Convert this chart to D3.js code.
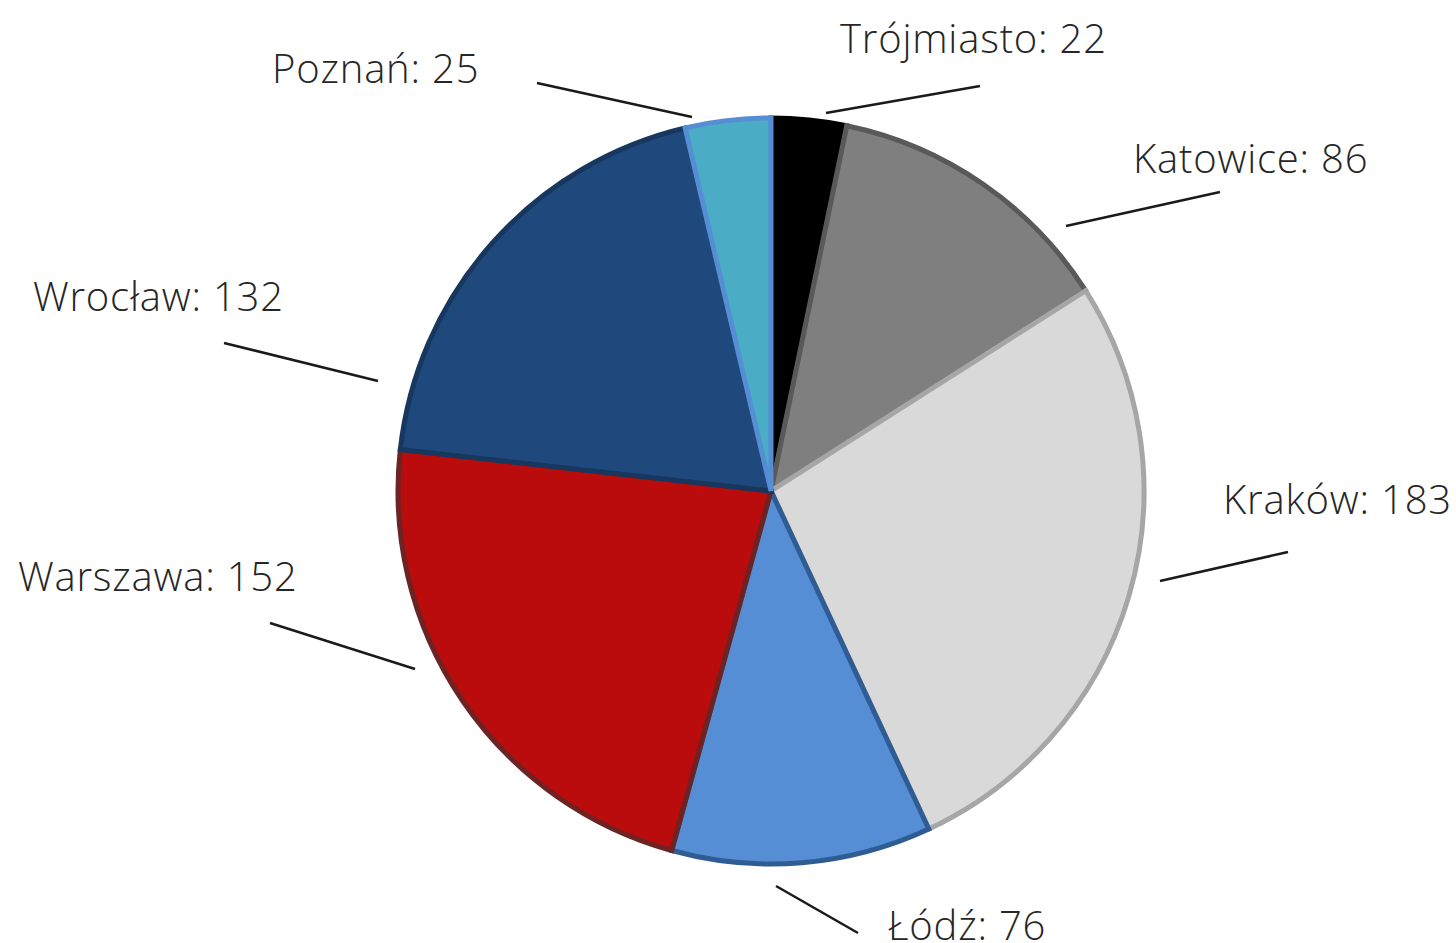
<!DOCTYPE html>
<html>
<head>
<meta charset="utf-8">
<script src="https://cdn.jsdelivr.net/npm/d3@7"></script>
<style>
  body { margin: 0; background: #fff; }
  text { font-family: "Open Sans", "DejaVu Sans", sans-serif; font-weight: 300; fill: #262626; }
</style>
</head>
<body>
<div id="chart"></div>
<script>
// data
var cities = ["Trójmiasto", "Katowice", "Kraków", "Łódź", "Warszawa", "Wrocław", "Poznań"];
var counts = [22, 86, 183, 76, 152, 132, 25];
var fills = ["#000000", "#7f7f7f", "#d9d9d9", "#558ed5", "#ba0c0c", "#1f497d", "#4bacc6"];
var strokes = ["#000000", "#595959", "#a6a6a6", "#2f5d93", "#6b2323", "#17375e", "#558ed5"];

// label layout: text start / baseline, leader line from -> to
var labelLayout = [
    { tx: 840, ty: 53, x1: 980, y1: 86, x2: 826, y2: 113 },
    { tx: 1133, ty: 173, x1: 1220, y1: 192, x2: 1066, y2: 226 },
    { tx: 1223, ty: 514, x1: 1288, y1: 552, x2: 1160, y2: 581 },
    { tx: 888, ty: 940, x1: 858, y1: 933, x2: 776, y2: 886 },
    { tx: 18, ty: 591, x1: 270, y1: 623, x2: 415, y2: 669 },
    { tx: 33, ty: 311, x1: 224, y1: 343, x2: 378, y2: 381 },
    { tx: 272, ty: 83, x1: 537, y1: 83, x2: 692, y2: 117 }
];

var svgWidth = 1456;
var svgHeight = 943;
var cx = 771, cy = 491, radius = 373;

var svg = d3.select("#chart")
    .append("svg")
    .attr("width", svgWidth)
    .attr("height", svgHeight);

var data = cities.map(function (c, i) {
    return { city: c, value: counts[i], i: i };
});

var pie = d3.pie()
    .value(d => d.value)
    .sort(null);

var arc = d3.arc()
    .innerRadius(0)
    .outerRadius(radius);

var pieGroup = svg.append("g")
    .attr("transform", `translate(${cx}, ${cy})`);

pieGroup.selectAll("path")
    .data(pie(data))
    .enter()
    .append("path")
    .attr("d", arc)
    .attr("fill", d => fills[d.data.i])
    .attr("stroke", d => strokes[d.data.i])
    .attr("stroke-width", 5)
    .attr("stroke-linejoin", "miter");

//leader lines
svg.selectAll("line.leader")
    .data(labelLayout)
    .enter()
    .append("line")
    .attr("class", "leader")
    .attr("x1", d => d.x1)
    .attr("y1", d => d.y1)
    .attr("x2", d => d.x2)
    .attr("y2", d => d.y2)
    .attr("stroke", "#1a1a1a")
    .attr("stroke-width", 2.5);

//labels
svg.selectAll("text.lbl")
    .data(data)
    .enter()
    .append("text")
    .attr("class", "lbl")
    .attr("x", d => labelLayout[d.i].tx)
    .attr("y", d => labelLayout[d.i].ty)
    .style("font-size", "40px")
    .style("letter-spacing", "0.8px")
    .text(d => `${d.city}: ${d.value}`);
</script>
</body>
</html>
